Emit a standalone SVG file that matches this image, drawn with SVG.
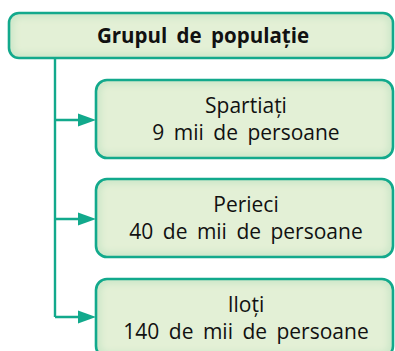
<svg xmlns="http://www.w3.org/2000/svg" width="395" height="351" viewBox="0 0 395 351">
<style>
.box{fill:#cde7c9;stroke:none}
.inner{fill:#e3f0d6;filter:url(#soft)}
.edge{fill:none;stroke:#12a98c;stroke-width:2.6}
.t{font-family:"Open Sans","Noto Sans",sans-serif;font-size:21px;fill:#111;text-anchor:middle;word-spacing:4px}
.tb{font-weight:700;font-size:20.5px;word-spacing:4px}
.conn{fill:none;stroke:#12a98c;stroke-width:2.4}
.ah{fill:#12a98c}
</style>
<defs>
<filter id="soft" x="-10%" y="-20%" width="120%" height="140%"><feGaussianBlur stdDeviation="3"/></filter>
</defs>
<rect width="395" height="351" fill="#fff"/>
<g id="connectors">
<path class="conn" d="M55,58 V317 M55,120 H82 M55,219 H82 M55,317 H82"/>
<polygon class="ah" points="96,120 78,113.5 78,126.5"/>
<polygon class="ah" points="96,219 78,212.5 78,225.5"/>
<polygon class="ah" points="96,317 78,310.5 78,323.5"/>
</g>
<g id="title">
<rect class="box" x="9" y="13" width="384" height="45" rx="10"/>
<rect class="inner" x="14" y="18" width="374" height="35" rx="6"/>
<rect class="edge" x="9" y="13" width="384" height="45" rx="10"/>
<text class="t tb" x="203" y="43">Grupul de populație</text>
</g>
<g id="spartiati">
<rect class="box" x="96" y="80" width="297" height="78" rx="11"/>
<rect class="inner" x="101" y="85" width="287" height="68" rx="7"/>
<rect class="edge" x="96" y="80" width="297" height="78" rx="11"/>
<text class="t" x="246" y="113">Spartiați</text>
<text class="t" x="246" y="140">9 mii de persoane</text>
</g>
<g id="perieci">
<rect class="box" x="96" y="179" width="297" height="78" rx="11"/>
<rect class="inner" x="101" y="184" width="287" height="68" rx="7"/>
<rect class="edge" x="96" y="179" width="297" height="78" rx="11"/>
<text class="t" x="246" y="212">Perieci</text>
<text class="t" x="246" y="239">40 de mii de persoane</text>
</g>
<g id="iloti">
<rect class="box" x="96" y="279" width="297" height="78" rx="11"/>
<rect class="inner" x="101" y="284" width="287" height="68" rx="7"/>
<rect class="edge" x="96" y="279" width="297" height="78" rx="11"/>
<text class="t" x="246" y="312">Iloți</text>
<text class="t" x="246" y="339">140 de mii de persoane</text>
</g>
</svg>
